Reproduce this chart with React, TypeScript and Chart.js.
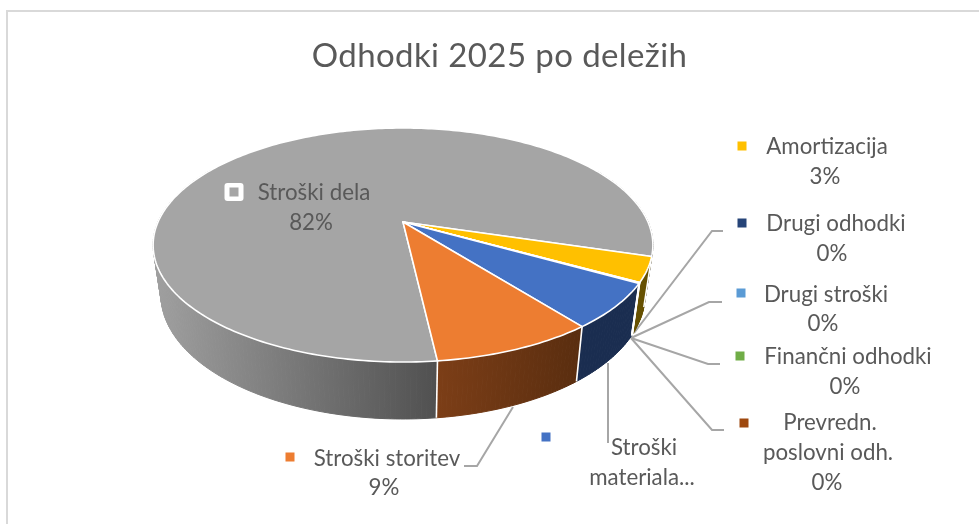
import React, { useEffect, useRef } from "react";
import { Chart, registerables } from "chart.js";

Chart.register(...registerables);

const titleText = "Odhodki 2025 po deležih";
const categories = [
  "Stroški dela",
  "Amortizacija",
  "Drugi odhodki",
  "Drugi stroški",
  "Finančni odhodki",
  "Prevredn. poslovni odh.",
  "Stroški materiala",
  "Stroški storitev",
];
const shares = [81.5, 3.4, 0.03, 0.03, 0.03, 0.03, 6.2, 8.8];
const shareLabels = ["82%", "3%", "0%", "0%", "0%", "0%", "", "9%"];
const nameLines = [
  ["Stroški dela"],
  ["Amortizacija"],
  ["Drugi odhodki"],
  ["Drugi stroški"],
  ["Finančni odhodki"],
  ["Prevredn.", "poslovni odh."],
  ["Stroški", "materiala..."],
  ["Stroški storitev"],
];
const topColors = ["#a5a5a5", "#ffc000", "#264478", "#5b9bd5", "#70ad47", "#9e480e", "#4472c4", "#ed7d31"];
const wallLeft = ["#a0a0a0", "#665000", "#172b4d", "#2c4e70", "#38572a", "#4f2407", "#1a2d50", "#7c3e17"];
const wallRight = ["#505050", "#665000", "#172b4d", "#2c4e70", "#38572a", "#4f2407", "#1a2d50", "#592d0f"];

// label layout: marker centre, then [centre x, centre y] for each text line
const labelLayout = [
  { m: [234, 192], l: [[314, 193], [311, 223]] },
  { m: [742, 146], l: [[827, 147], [825, 177]] },
  { m: [742, 223], l: [[836, 224], [832, 254]] },
  { m: [741, 293], l: [[826, 295], [823, 324]] },
  { m: [740, 356], l: [[848, 357], [845, 387]] },
  { m: [744, 423], l: [[830, 423], [828, 453], [827, 483]] },
  { m: [546, 437], l: [[644, 448], [642, 478]] },
  { m: [290, 457], l: [[387, 459], [384, 488]] },
];
const leaders = [
  [[634, 333], [712, 231], [723, 231]],
  [[631, 338], [709, 302], [722, 302]],
  [[631, 338], [708, 364], [720, 364]],
  [[631, 338], [712, 430], [724, 430]],
  [[608, 363], [608, 443]],
  [[513, 407], [477, 466], [464, 466]],
];

// perspective projection of the pie's circle
const K = 0.1966;
const topFace = { cx: 403, y0: 222, a: 245, b: 112.5 };
const bottomFace = { cx: 403, y0: 270.6, a: 237.3, b: 119.2 };
const project = (f: any, ang: number) => {
  const u = Math.cos(ang), v = Math.sin(ang), w = 1 - K * v;
  return [f.cx + (f.a * u) / w, f.y0 + (f.b * v) / w];
};
const STEP = Math.PI / 180;
const samples = (a0: number, a1: number) => {
  const out: number[] = [];
  const n = Math.max(1, Math.ceil((a1 - a0) / STEP));
  for (let i = 0; i <= n; i++) out.push(a0 + ((a1 - a0) * i) / n);
  return out;
};

const pie3d = {
  id: "pie3d",
  beforeDraw(chart: any) {
    const { ctx } = chart;
    ctx.save();
    ctx.fillStyle = "#ffffff";
    ctx.fillRect(0, 0, 979, 524);
    ctx.strokeStyle = "#d9d9d9";
    ctx.lineWidth = 2;
    ctx.strokeRect(7, 11, 1000, 600);
    ctx.strokeStyle = "#a6a6a6";
    ctx.lineWidth = 2;
    for (const pl of leaders) {
      ctx.beginPath();
      pl.forEach((p, i) => (i ? ctx.lineTo(p[0], p[1]) : ctx.moveTo(p[0], p[1])));
      ctx.stroke();
    }
    ctx.restore();
  },
  beforeDatasetDraw(chart: any) {
    const { ctx } = chart;
    const arcs = chart.getDatasetMeta(0).data;
    ctx.save();
    ctx.lineJoin = "round";
    // side walls
    arcs.forEach((arc: any, i: number) => {
      const angs = samples(arc.startAngle, arc.endAngle);
      const xs = angs.map((a) => project(topFace, a)[0]);
      const x0 = i === 0 ? Math.min(...xs) : Math.min(...xs);
      const x1 = i === 0 ? xs[0] : Math.max(...xs);
      const g = ctx.createLinearGradient(x0, 0, x1 + 0.01, 0);
      g.addColorStop(0, wallLeft[i]);
      g.addColorStop(1, wallRight[i]);
      ctx.fillStyle = g;
      ctx.strokeStyle = g;
      ctx.lineWidth = 1;
      for (let k = 0; k < angs.length - 1; k++) {
        if (Math.sin(angs[k]) < -0.5) continue;
        const p = [project(topFace, angs[k]), project(topFace, angs[k + 1]), project(bottomFace, angs[k + 1]), project(bottomFace, angs[k])];
        ctx.beginPath();
        p.forEach((q, j) => (j ? ctx.lineTo(q[0], q[1]) : ctx.moveTo(q[0], q[1])));
        ctx.closePath();
        ctx.fill();
        ctx.stroke();
      }
    });
    // white seams on the front of the wall
    ctx.strokeStyle = "#ffffff";
    ctx.lineWidth = 1.6;
    arcs.forEach((arc: any) => {
      const s = Math.sin(arc.startAngle);
      if (s < 0.25) return;
      const t = project(topFace, arc.startAngle), b = project(bottomFace, arc.startAngle);
      ctx.beginPath();
      ctx.moveTo(t[0], t[1]);
      ctx.lineTo(b[0], b[1]);
      ctx.stroke();
    });
    // top faces
    arcs.forEach((arc: any, i: number) => {
      ctx.beginPath();
      ctx.moveTo(topFace.cx, topFace.y0);
      samples(arc.startAngle, arc.endAngle).forEach((a) => {
        const q = project(topFace, a);
        ctx.lineTo(q[0], q[1]);
      });
      ctx.closePath();
      ctx.fillStyle = topColors[i];
      ctx.fill();
      ctx.strokeStyle = "#ffffff";
      ctx.lineWidth = 1.6;
      ctx.stroke();
    });
    ctx.restore();
    return false;
  },
  afterDraw(chart: any) {
    const { ctx } = chart;
    ctx.save();
    ctx.textAlign = "center";
    ctx.textBaseline = "middle";
    ctx.fillStyle = "#595959";
    ctx.font = "33px Lato";
    (ctx as any).letterSpacing = "0.4px";
    ctx.fillText(titleText, 499.5, 56);
    (ctx as any).letterSpacing = "0px";
    ctx.font = "22.3px Lato";
    categories.forEach((_, i) => {
      const lay = labelLayout[i];
      const lines = shareLabels[i] ? [...nameLines[i], shareLabels[i]] : nameLines[i];
      lines.forEach((t, j) => {
        ctx.fillStyle = "#595959";
        ctx.fillText(t, lay.l[j][0], lay.l[j][1]);
      });
      const [mx, my] = lay.m;
      if (i === 0) {
        ctx.fillStyle = "#ffffff";
        ctx.beginPath();
        ctx.roundRect(mx - 9.5, my - 9, 19, 18, 3);
        ctx.fill();
      }
      ctx.fillStyle = topColors[i];
      ctx.fillRect(mx - 4.5, my - 4.5, 9, 9);
    });
    ctx.restore();
  },
};

export default function App() {
  const ref = useRef<HTMLCanvasElement | null>(null);
  useEffect(() => {
    document.body.style.margin = "0";
    const chart = new Chart(ref.current as HTMLCanvasElement, {
      type: "pie",
      data: {
        labels: categories,
        datasets: [{ data: shares, backgroundColor: topColors, borderColor: "#ffffff", borderWidth: 1 }],
      },
      options: {
        responsive: false,
        animation: false,
        rotation: 173.5,
        plugins: { legend: { display: false }, tooltip: { enabled: false }, title: { display: false } },
      },
      plugins: [pie3d as any],
    });
    return () => chart.destroy();
  }, []);
  return <canvas ref={ref} width={979} height={524} style={{ display: "block", width: 979, height: 524, filter: "blur(0.45px)" }} />;
}
